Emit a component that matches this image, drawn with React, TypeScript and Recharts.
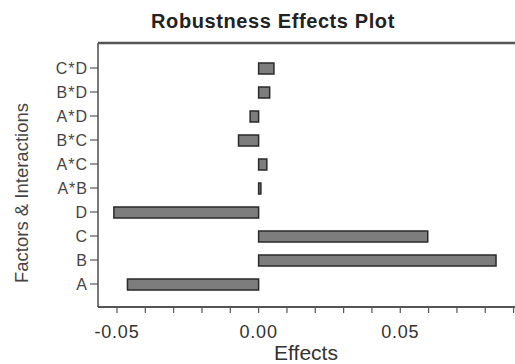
import { BarChart, Bar, XAxis, YAxis } from 'recharts'

const FACTORS = ['A', 'B', 'C', 'D', 'A*B', 'A*C', 'B*C', 'A*D', 'B*D', 'C*D']
const EFFECTS = [-0.0463, 0.0838, 0.0597, -0.0511, 0.0008, 0.0029, -0.0071, -0.003, 0.0039, 0.0054]

const X_TICKS = [-0.05, -0.04, -0.03, -0.02, -0.01, 0, 0.01, 0.02, 0.03, 0.04, 0.05, 0.06, 0.07, 0.08, 0.09]
const X_MAJOR = [-0.05, 0, 0.05]
const X_LABELS = ['-0.05', '0.00', '0.05']
const X_DOMAIN = [-0.0567, 0.0905]

const FONT = '"Liberation Sans", Arial, sans-serif'
const AXIS = '#555'

const rows = FACTORS.map((name, i) => ({ name, value: EFFECTS[i] }))

function XTick({ x, y, payload }: any) {
  const idx = X_MAJOR.findIndex((m) => Math.abs(m - payload.value) < 1e-9)
  if (idx < 0) return <g />
  return (
    <text x={x} y={y} dy={23} textAnchor="middle" fontSize={18} fill="#333" fontFamily={FONT} letterSpacing={0.8}>
      {X_LABELS[idx]}
    </text>
  )
}

export default function App() {
  return (
    <div style={{ position: 'absolute', left: 0, top: 0, width: 515, height: 364, background: '#fff' }}>
      <div
        style={{
          position: 'absolute',
          left: 0,
          top: 9,
          width: 546,
          textAlign: 'center',
          fontFamily: FONT,
          fontSize: 20,
          fontWeight: 'bold',
          color: '#222',
          letterSpacing: 0.6,
          lineHeight: '24px',
        }}
      >
        Robustness Effects Plot
      </div>
      <BarChart
        width={515}
        height={364}
        layout="vertical"
        data={rows}
        margin={{ top: 42, right: 0, bottom: 0, left: 0 }}
        barSize={11}
      >
        <XAxis
          xAxisId="top"
          orientation="top"
          type="number"
          domain={X_DOMAIN}
          height={1}
          tick={false}
          tickLine={false}
          axisLine={{ stroke: AXIS, strokeWidth: 2.5 }}
        />
        <XAxis
          type="number"
          domain={X_DOMAIN}
          ticks={X_TICKS}
          interval={0}
          height={57}
          tick={<XTick />}
          tickSize={6}
          tickLine={{ stroke: AXIS, strokeWidth: 1.2 }}
          axisLine={{ stroke: AXIS, strokeWidth: 2 }}
          allowDataOverflow
          label={{
            content: () => (
              <text x={306} y={360} textAnchor="middle" fontSize={21} fill="#333" fontFamily={FONT}>
                Effects
              </text>
            ),
          }}
        />
        <YAxis
          type="category"
          dataKey="name"
          reversed
          width={98}
          padding={{ top: 13, bottom: 11 }}
          tickSize={8}
          tickLine={{ stroke: AXIS, strokeWidth: 1.2 }}
          axisLine={{ stroke: AXIS, strokeWidth: 1.6 }}
          tick={{ fontSize: 16, fill: '#444', fontFamily: FONT, letterSpacing: 1 }}
          interval={0}
          label={{
            content: () => (
              <text transform="translate(28,193) rotate(-90)" textAnchor="middle" fontSize={18.5} fill="#444" fontFamily={FONT}>
                Factors &amp; Interactions
              </text>
            ),
          }}
        />
        <Bar dataKey="value" fill="#7d7d7d" stroke="#2a2a2a" strokeWidth={1.5} isAnimationActive={false} />
      </BarChart>
    </div>
  )
}
